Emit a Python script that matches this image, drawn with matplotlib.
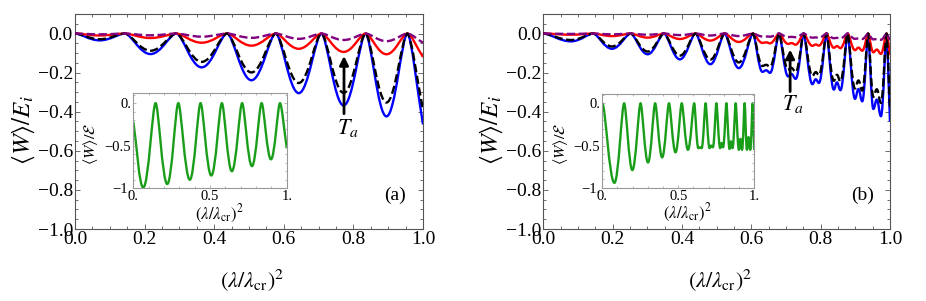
import numpy as np
import matplotlib
matplotlib.use("Agg")
import matplotlib.pyplot as plt
from matplotlib.path import Path
from matplotlib.patches import PathPatch
from matplotlib.ticker import MultipleLocator, FixedLocator, FixedFormatter

plt.rcParams['font.family'] = ['Liberation Serif', 'DejaVu Serif']
plt.rcParams['mathtext.fontset'] = 'stix'

# ---------------- data ----------------
# panel (a): x positions of extrema (zeros / troughs) and end point
XA = [0.000, 0.071, 0.143, 0.217, 0.291, 0.364, 0.437, 0.507, 0.577, 0.643,
      0.708, 0.772, 0.835, 0.895, 0.955, 1.000]
BLUE_A = [0, -0.035, 0, -0.105, 0, -0.173, 0, -0.239, 0, -0.305, 0, -0.368,
          0, -0.424, 0, -0.465]
BLACK_A = [0, -0.029, 0, -0.088, 0, -0.145, 0, -0.199, 0, -0.253, 0, -0.304,
           0, -0.353, 0, -0.390]
RED_A = [0, -0.010, 0, -0.023, 0, -0.047, 0, -0.062, 0, -0.078, 0, -0.094,
         0, -0.106, 0, -0.120]
PURPLE_A = [0, -0.004, 0, -0.009, 0, -0.016, 0, -0.022, 0, -0.027, 0, -0.033,
            0, -0.039, 0, -0.047]
# inset (a)
XGA = [0.000, 0.065, 0.145, 0.221, 0.293, 0.368, 0.438, 0.508, 0.577, 0.642,
       0.709, 0.773, 0.836, 0.897, 0.956, 1.000]
GREEN_A = [-0.22, -0.99, 0, -0.95, 0, -0.90, 0, -0.85, 0, -0.80, 0, -0.74,
           0, -0.66, 0, -0.53]

# panel (b): x positions of extrema (zeros, troughs, split troughs) and end point
XB = [0.000, 0.080, 0.144, 0.198, 0.252, 0.301, 0.348, 0.394, 0.439, 0.482,
      0.523, 0.564, 0.605,
      0.632, 0.643, 0.654, 0.680,
      0.706, 0.716, 0.728, 0.751,
      0.776, 0.786, 0.795, 0.817,
      0.838, 0.847, 0.857, 0.878,
      0.899, 0.909, 0.920, 0.937,
      0.952, 0.962, 0.974, 0.990, 1.000]
BLUE_B = [0, -0.040, 0, -0.078, 0, -0.106, 0, -0.132, 0, -0.157, 0, -0.177, 0,
          -0.196, -0.188, -0.201, 0,
          -0.219, -0.207, -0.232, 0,
          -0.259, -0.234, -0.253, 0,
          -0.287, -0.250, -0.290, 0,
          -0.334, -0.284, -0.347, 0,
          -0.386, -0.338, -0.423, 0, -0.450]
BLACK_B = [0, -0.033, 0, -0.066, 0, -0.092, 0, -0.113, 0, -0.133, 0, -0.148, 0,
           -0.166, -0.160, -0.170, 0,
           -0.185, -0.176, -0.197, 0,
           -0.217, -0.197, -0.213, 0,
           -0.242, -0.211, -0.245, 0,
           -0.281, -0.240, -0.292, 0,
           -0.324, -0.285, -0.355, 0, -0.380]
RED_B = [0, -0.006, 0, -0.013, 0, -0.021, 0, -0.028, 0, -0.036, 0, -0.043, 0,
         -0.048, -0.045, -0.050, 0,
         -0.053, -0.049, -0.057, 0,
         -0.063, -0.056, -0.062, 0,
         -0.073, -0.064, -0.075, 0,
         -0.085, -0.072, -0.088, 0,
         -0.096, -0.082, -0.104, 0, -0.110]
PURPLE_B = [0, -0.002, 0, -0.004, 0, -0.006, 0, -0.008, 0, -0.010, 0, -0.013, 0,
            -0.015, -0.015, -0.016, 0,
            -0.018, -0.017, -0.019, 0,
            -0.021, -0.020, -0.022, 0,
            -0.024, -0.022, -0.025, 0,
            -0.027, -0.025, -0.028, 0,
            -0.030, -0.028, -0.032, 0, -0.034]
GREEN_B = [0, -0.94, 0, -0.79, 0, -0.70, 0, -0.64, 0, -0.58, 0, -0.55, 0,
           -0.53, -0.52, -0.53, 0,
           -0.53, -0.50, -0.52, 0,
           -0.53, -0.47, -0.52, 0,
           -0.54, -0.45, -0.53, 0,
           -0.55, -0.42, -0.55, 0,
           -0.55, -0.40, -0.55, 0, -0.55]

MAIN_XTICKS = [0.0, 0.2, 0.4, 0.6, 0.8, 1.0]
MAIN_YTICKS = [-1.0, -0.8, -0.6, -0.4, -0.2, 0.0]
INSET_XTICKS = [0.0, 0.5, 1.0]
INSET_XLABELS = ["0.", "0.5", "1."]
INSET_YTICKS = [-1.0, -0.5, 0.0]
INSET_YLABELS = ["\u22121.", "\u22120.5", "0."]

# arrows: (x, tail y, head y), label position
ARROW_A = (0.773, -0.41, -0.115)
LABEL_A = (0.783, -0.485)
ARROW_B = (0.712, -0.297, -0.082)
LABEL_B = (0.721, -0.36)

BLUE = '#0000ff'
RED = '#ff0000'
PURPLE = '#800080'
GREEN = '#1a9e1a'
FRAME = '#555555'
IFRAME = '#999999'


def smooth_curve(ax, xs, ys, **kw):
    """Draw a smooth curve through extrema using cubic Bezier segments
    (horizontal tangents at extrema, chord tangents at the open ends)."""
    n = len(xs)
    slopes = []
    for i in range(n):
        if i == 0 and ys[0] != 0:
            slopes.append((ys[1] - ys[0]) / (xs[1] - xs[0]))
        elif i == n - 1 and ys[-1] != 0:
            slopes.append((ys[-1] - ys[-2]) / (xs[-1] - xs[-2]))
        else:
            slopes.append(0.0)

    def handle(i):
        if (i == 0 and ys[0] != 0) or (i == n - 1 and ys[-1] != 0):
            return 1 / 3
        return 0.25 if ys[i] == 0 else 0.42

    verts = [(xs[0], ys[0])]
    codes = [Path.MOVETO]
    for i in range(n - 1):
        dx = xs[i + 1] - xs[i]
        k0, k1 = handle(i), handle(i + 1)
        p1 = (xs[i] + k0 * dx, ys[i] + slopes[i] * k0 * dx)
        p2 = (xs[i + 1] - k1 * dx, ys[i + 1] - slopes[i + 1] * k1 * dx)
        verts += [p1, p2, (xs[i + 1], ys[i + 1])]
        codes += [Path.CURVE4] * 3
    patch = PathPatch(Path(verts, codes), fill=False, transform=ax.transData,
                      capstyle='butt', joinstyle='round', **kw)
    ax.add_patch(patch)
    return patch


def style_main(ax, label):
    ax.set_xlim(0, 1)
    ax.set_ylim(-1.0, 0.1)
    ax.xaxis.set_major_locator(FixedLocator(MAIN_XTICKS))
    ax.yaxis.set_major_locator(FixedLocator(MAIN_YTICKS))
    ax.xaxis.set_minor_locator(MultipleLocator(0.05))
    ax.yaxis.set_minor_locator(MultipleLocator(0.05))
    ax.xaxis.set_major_formatter(FixedFormatter(["%.1f" % v for v in MAIN_XTICKS]))
    ax.yaxis.set_major_formatter(FixedFormatter(
        [("%.1f" % v).replace("-", "\u2212") for v in MAIN_YTICKS]))
    ax.tick_params(which='both', direction='in', top=True, right=True,
                   color=FRAME, width=0.6)
    ax.tick_params(which='major', length=3.5, labelsize=14, pad=1.5)
    ax.tick_params(which='minor', length=2)
    for s in ax.spines.values():
        s.set_color(FRAME)
        s.set_linewidth(0.8)
    ax.set_xlabel(r'$(\lambda/\lambda_{\rm cr})^2$', fontsize=16)
    ax.xaxis.set_label_coords(0.51, -0.175)
    ax.set_ylabel(r'$\langle W\rangle/E_i$', fontsize=18)
    ax.yaxis.set_label_coords(-0.11, 0.46)
    ax.text(0.92, -0.826, label, fontsize=14, ha='center', va='center')


def style_inset(ax):
    ax.set_xlim(0, 1)
    ax.set_ylim(-1.0, 0.115)
    ax.xaxis.set_major_locator(FixedLocator(INSET_XTICKS))
    ax.xaxis.set_major_formatter(FixedFormatter(INSET_XLABELS))
    ax.yaxis.set_major_locator(FixedLocator(INSET_YTICKS))
    ax.yaxis.set_major_formatter(FixedFormatter(INSET_YLABELS))
    ax.xaxis.set_minor_locator(MultipleLocator(0.1))
    ax.yaxis.set_minor_locator(MultipleLocator(0.1))
    ax.tick_params(which='both', direction='in', top=True, right=True,
                   color=IFRAME, width=0.5)
    ax.tick_params(which='major', length=2.5, labelsize=10.5, pad=1.5)
    ax.tick_params(which='minor', length=1.3)
    for s in ax.spines.values():
        s.set_color(IFRAME)
        s.set_linewidth(0.8)
    ax.set_xlabel(r'$(\lambda/\lambda_{\rm cr})^2$', fontsize=12)
    ax.xaxis.set_label_coords(0.56, -0.15)
    ax.set_ylabel(r'$\langle W\rangle/\mathcal{E}$', fontsize=11.5)
    ax.yaxis.set_label_coords(-0.215, 0.47)


fig = plt.figure(figsize=(9.26, 3.01), dpi=100)
axA = fig.add_axes([0.0810, 0.2392, 0.3758, 0.7143])
axB = fig.add_axes([0.5867, 0.2392, 0.3744, 0.7143])
inA = fig.add_axes([0.1440, 0.3744, 0.1657, 0.3156])
inB = fig.add_axes([0.6504, 0.3757, 0.1641, 0.3136])

LW = 1.7
for ax, xs, blue, black, red, purple in [
        (axA, XA, BLUE_A, BLACK_A, RED_A, PURPLE_A),
        (axB, XB, BLUE_B, BLACK_B, RED_B, PURPLE_B)]:
    smooth_curve(ax, xs, blue, edgecolor=BLUE, lw=LW, zorder=3)
    smooth_curve(ax, xs, black, edgecolor='black', lw=LW,
                 linestyle=(0, (3.5, 1.5)), zorder=4)
    smooth_curve(ax, xs, red, edgecolor=RED, lw=LW, zorder=3)
    smooth_curve(ax, xs, purple, edgecolor=PURPLE, lw=LW,
                 linestyle=(0, (3.5, 1.5)), zorder=4)

style_main(axA, '(a)')
style_main(axB, '(b)')

smooth_curve(inA, XGA, GREEN_A, edgecolor=GREEN, lw=LW)
smooth_curve(inB, XB, GREEN_B, edgecolor=GREEN, lw=LW)
style_inset(inA)
style_inset(inB)

for ax, (x, yt, yh), (lx, ly) in [(axA, ARROW_A, LABEL_A), (axB, ARROW_B, LABEL_B)]:
    ax.annotate('', xy=(x, yh), xytext=(x, yt),
                arrowprops=dict(arrowstyle='-|>', lw=2.0, color='black',
                                mutation_scale=13, shrinkA=0, shrinkB=0),
                zorder=6)
    ax.text(lx, ly, r'$T_a$', fontsize=16, ha='center', va='center')

fig.savefig('out.png', dpi=100)
